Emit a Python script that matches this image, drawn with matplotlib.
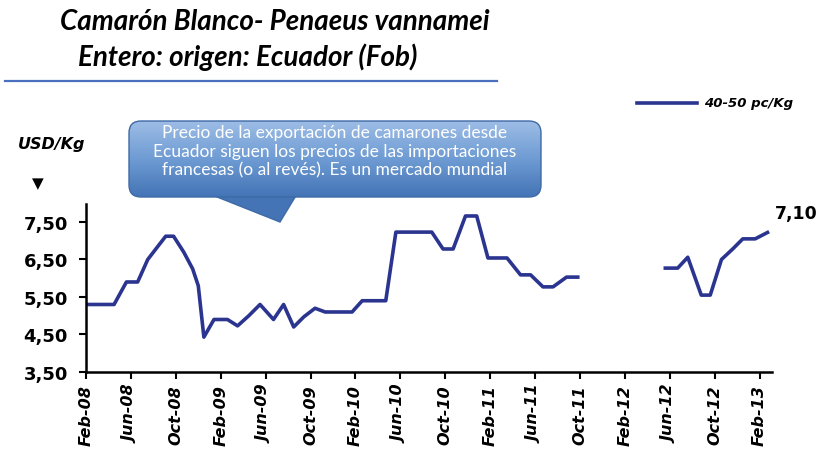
import matplotlib
matplotlib.use("Agg")
import matplotlib.pyplot as plt
import numpy as np
from matplotlib.patches import FancyBboxPatch, Polygon

# months since Feb-08 and price in USD/Kg
months = [0.15, 2.5, 3.6, 4.6, 5.5, 6.4, 7.1, 7.8, 8.7, 9.5, 10.0, 10.5, 11.4,
          12.6, 13.5, 14.5, 15.5, 16.7, 17.6, 18.5, 19.4, 20.4, 21.3, 23.7,
          24.6, 26.7, 27.6, 30.8, 31.8, 32.7, 33.8, 34.8, 35.8, 37.5, 38.7,
          39.6, 40.7, 41.6, 42.8, 43.8, 47.0,
          51.6, 52.7, 53.6, 54.8, 55.6, 56.6, 57.6, 58.5, 59.6, 60.7]
price = [5.3, 5.3, 5.9, 5.9, 6.5, 6.85, 7.12, 7.12, 6.7, 6.25, 5.8, 4.43, 4.9,
         4.9, 4.73, 5.0, 5.3, 4.9, 5.3, 4.7, 4.97, 5.2, 5.1, 5.1,
         5.4, 5.4, 7.23, 7.23, 6.78, 6.78, 7.66, 7.66, 6.54, 6.54, 6.09,
         6.09, 5.77, 5.77, 6.03, 6.03, np.nan,
         6.27, 6.27, 6.56, 5.55, 5.55, 6.5, 6.78, 7.05, 7.05, 7.22]

tick_labels = ["Feb-08", "Jun-08", "Oct-08", "Feb-09", "Jun-09", "Oct-09",
               "Feb-10", "Jun-10", "Oct-10", "Feb-11", "Jun-11", "Oct-11",
               "Feb-12", "Jun-12", "Oct-12", "Feb-13"]
tick_pos = [4 * i for i in range(len(tick_labels))]
yticks = [3.5, 4.5, 5.5, 6.5, 7.5]
last_label = "7,10"

title1 = "Camarón Blanco- Penaeus vannamei"
title2 = "Entero: origen: Ecuador (Fob)"
callout = ("Precio de la exportación de camarones desde\n"
           "Ecuador siguen los precios de las importaciones\n"
           "francesas (o al revés). Es un mercado mundial")

navy = "#2b3590"

fig = plt.figure(figsize=(8.19, 4.52), dpi=100)
ax = fig.add_axes([0.1050, 0.1748, 0.8376, 0.3717])
ax.plot(months, price, color=navy, lw=2.6, solid_joinstyle="round")
ax.set_xlim(0, 61.1)
ax.set_ylim(3.5, 7.98)
ax.set_yticks(yticks)
ax.set_yticklabels([f"{v:.2f}".replace(".", ",") for v in yticks],
                   fontsize=13, fontweight="bold", family="DejaVu Sans")
ax.set_xticks(tick_pos)
ax.set_xticklabels(tick_labels, rotation=90, fontsize=11.5, fontweight="bold",
                   style="italic", family="DejaVu Sans")
for s in ["top", "right"]:
    ax.spines[s].set_visible(False)
for s in ["left", "bottom"]:
    ax.spines[s].set_linewidth(1.8)
ax.tick_params(axis="both", direction="out", length=5, width=1.5)
ax.tick_params(axis="y", pad=8)
ax.tick_params(axis="x", pad=4)

# overlay in pixel coordinates for titles, legend and callout
ov = fig.add_axes([0, 0, 1, 1], zorder=5)
ov.axis("off")
ov.patch.set_alpha(0)

tfont = dict(family=["Lato", "DejaVu Sans"], fontweight="bold", style="italic",
             fontsize=20, color="black", va="center", ha="left")
ov.text(60, 22, title1, **tfont)
ov.text(78, 57, title2, **tfont)
ov.plot([5, 497], [82, 82], color="#4a6fbf", lw=1.6)

ov.plot([637, 697], [104, 104], color=navy, lw=2.6)
ov.text(704, 104, "40-50 pc/Kg", fontsize=9.5, fontweight="bold", style="italic",
        va="center", ha="left")

ov.text(18, 145, "USD/Kg", fontsize=11.5, fontweight="bold", style="italic",
        family="DejaVu Sans", va="center", ha="left")
ov.text(38, 184, "\u25BC", fontsize=11, va="center", ha="center")
ov.text(775, 214, last_label, fontsize=12.5, fontweight="bold",
        va="center", ha="left", family="DejaVu Sans")

# callout with vertical gradient
ptr = Polygon([(197, 190), (280, 223), (300, 190)], closed=True,
              facecolor="#4474b6", edgecolor="#3e6aa6", lw=1.0, zorder=5.2)
ov.add_patch(ptr)
box = FancyBboxPatch((129, 122), 412, 76, boxstyle="round,pad=0,rounding_size=12",
                     facecolor="none", edgecolor="#3e6aa6", lw=1.0, zorder=6)
ov.add_patch(box)
grad = np.linspace(0, 1, 256).reshape(-1, 1)
cmap = matplotlib.colors.LinearSegmentedColormap.from_list(
    "g", ["#9dbde6", "#6e9bd3", "#4474b6"])
im = ov.imshow(grad, extent=(128, 542, 198, 122), cmap=cmap, aspect="auto",
               zorder=5.5, interpolation="bilinear")
im.set_clip_path(box)
ov.set_xlim(0, 819)
ov.set_ylim(452, 0)
ov.text(335, 152, callout, color="white", fontsize=12.5,
        family=["Lato", "DejaVu Sans"],
        ha="center", va="center", linespacing=1.2, zorder=7)

fig.savefig("out.png", dpi=100)
